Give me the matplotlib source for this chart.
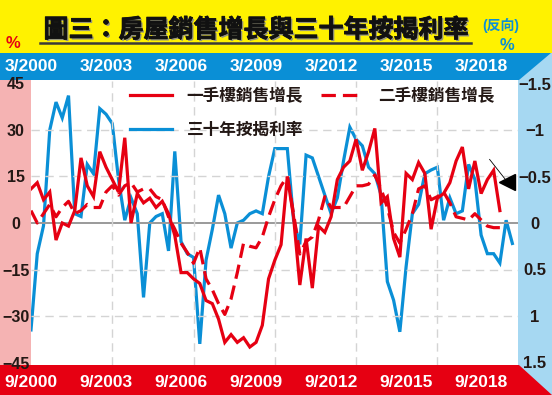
#!/usr/bin/env python3
"""圖三：房屋銷售增長與三十年按揭利率 の再現図。"""

from __future__ import annotations

import matplotlib

matplotlib.use("Agg")
import matplotlib.patheffects as pe
import matplotlib.pyplot as plt
import numpy as np
import pandas as pd
from matplotlib.font_manager import FontProperties
from matplotlib.lines import Line2D
from matplotlib.patches import Polygon, Rectangle
from matplotlib.ticker import FuncFormatter
from matplotlib.transforms import blended_transform_factory


QUARTERS = pd.period_range("2000Q1", "2019Q2", freq="Q")

# 一手樓銷售增長 (%), 左軸
NEW_SALES = [
    11, 13, 7.5, 10, -5.5, 0, -1, 4, 21, 12, 8.5, 23, 18, 14, 10, 27.5, 0, 9.5, 6.5, 8,
    5, 7, 3, -4, -16, -16, -18, -19.5, -25, -26, -31, -38.5, -36, -38.5, -37, -40, -38.5, -33, -18, -12,
    -7, 15, 2, -20, -5, -21, -1, -3, 2, 14, 18, 20, 27, 17, 23, 30.5, 6.5, 8.5, -5, -11,
    16, 14, 19.5, 16, -2, 8, 9.5, 13, 20, 24.5, 11, 20, 9.5, 14, 17, 4,
]
# 二手樓銷售增長 (%), 左軸
SECOND_SALES = [
    4, 0, 3, 6, 2, 5, 7, 3, 4, 6, 5, 5, 10, 12, 9, 12, 13, 10, 11, 11,
    8.5, 7.5, 2, -2, -6.5, -9.5, -13, -8, -18, -21.5, -26, -29.5, -24.5, -16, -6.5, -7.5, -8, -4.5, 2, 7.5,
    12, 15, 3, -10, -6, -4.5, 1, 8.5, 5, 5, 5, 8.5, 12, 12, 12.5, 15.5, 11, 5, -3, -6.5,
    -2, 3, 11, 12, 7.5, 8.5, 10, 6.5, 2, 1.5, 1, 3, 1, -1, -1.5, -1.5,
]
# 三十年按揭利率 (%), 右軸 (反向)
MORTGAGE_RATE = [
    1.15, 0.33, 0.03, -1.00, -1.30, -1.13, -1.37, -0.10, -0.07, -0.63,
    -0.53, -1.23, -1.17, -1.07, -0.47, -0.03, -0.27, -0.10, 0.80, 0.00,
    -0.07, -0.10, 0.30, -0.77, 0.20, 0.33, 0.37, 1.30, 0.40, 0.07,
    -0.30, -0.10, 0.27, 0.00, -0.03, -0.10, -0.13, -0.10, -0.50, -0.80,
    -0.80, -0.80, -0.03, 0.23, -0.73, -0.70, -0.50, -0.30, -0.10, -0.27,
    -0.67, -1.03, -0.90, -0.83, -0.60, -0.53, -0.30, 0.63, 0.83, 1.17,
    0.47, -0.10, -0.20, -0.53, -0.57, -0.60, -0.03, -0.27, -0.10, -0.13,
    -0.63, -0.47, 0.13, 0.33, 0.33, 0.43, -0.03, 0.22,
]

LABEL_QUARTERS = ["2000Q1", "2003Q1", "2006Q1", "2009Q1", "2012Q1", "2015Q1", "2018Q1"]
TOP_LABELS = ["3/2000", "3/2003", "3/2006", "3/2009", "3/2012", "3/2015", "3/2018"]
BOTTOM_LABELS = ["9/2000", "9/2003", "9/2006", "9/2009", "9/2012", "9/2015", "9/2018"]
LEFT_TICKS = [-45, -30, -15, 0, 15, 30, 45]
RIGHT_TICKS = [-1.5, -1, -0.5, 0, 0.5, 1, 1.5]

YELLOW = "#FFF200"
BAND_BLUE = "#0A8FD6"
LIGHT_BLUE = "#A6D8F2"
PINK = "#F5B3B3"
RED = "#E60012"
BLUE = "#0A8FD6"
TEXT = "#231815"

W, H = 552, 395
CJK = ["Noto Sans CJK TC", "DejaVu Sans"]
NUM = ["Liberation Sans", "Noto Sans CJK TC", "DejaVu Sans"]


def fx(px: float) -> float:
    return px / W


def fy(py: float) -> float:
    return 1 - py / H


def draw_background(fig: plt.Figure) -> None:
    """帯状の背景を描く（軸より下に置く）。"""
    tf = fig.transFigure
    kw = dict(transform=tf, zorder=-5, linewidth=0)
    fig.patches.extend([
        Rectangle((0, fy(53)), 1, 1 - fy(53), facecolor=YELLOW, **kw),
        Rectangle((fx(518), 0), 1 - fx(518), fy(53), facecolor=LIGHT_BLUE, **kw),
        Rectangle((0, fy(365)), fx(31), fy(80) - fy(365), facecolor=PINK, **kw),
        Polygon([(0, fy(53)), (fx(551), fy(53)), (fx(519), fy(80)), (0, fy(80))],
                closed=True, facecolor=BAND_BLUE, **kw),
        Polygon([(0, fy(365)), (fx(519), fy(365)), (fx(552), fy(395)), (0, fy(395))],
                closed=True, facecolor=RED, **kw),
    ])


def main() -> None:
    plt.rcParams["font.family"] = NUM
    plt.rcParams["axes.unicode_minus"] = True

    fig = plt.figure(figsize=(W / 100, H / 100), dpi=100, facecolor="white")
    draw_background(fig)

    ax = fig.add_axes([fx(31), fy(365), fx(518) - fx(31), fy(81) - fy(365)])
    ax2 = ax.twinx()
    ax.set_zorder(ax2.get_zorder() + 1)
    ax.patch.set_visible(False)

    x_rate = np.arange(len(MORTGAGE_RATE))
    x_sales = np.arange(len(NEW_SALES))

    h_rate, = ax2.plot(x_rate, MORTGAGE_RATE, color=BLUE, lw=2.3,
                       solid_joinstyle="miter", label="三十年按揭利率")
    h_second, = ax.plot(x_sales, SECOND_SALES, color=RED, lw=2.3,
                        dashes=(4.5, 2.2), label="二手樓銷售增長")
    h_new, = ax.plot(x_sales, NEW_SALES, color=RED, lw=2.3,
                     solid_joinstyle="miter", label="一手樓銷售增長")

    ax.set_xlim(0, 77.9)
    ax.set_ylim(-45.8, 45.8)
    ax2.set_ylim(1.527, -1.527)

    ax.set_xticks(np.arange(13, 78, 13))
    ax.tick_params(axis="x", length=0, labelbottom=False)
    ax.set_yticks(LEFT_TICKS)
    ax.yaxis.set_major_formatter(FuncFormatter(lambda v, _: f"{v:g}".replace("-", "\u2212")))
    ax.tick_params(axis="y", length=0, pad=10.8, labelsize=11.5, labelcolor=TEXT)
    for lab in ax.get_yticklabels():
        lab.set_horizontalalignment("center")
        lab.set_fontweight("bold")

    ax2.set_yticks(RIGHT_TICKS)
    ax2.yaxis.set_major_formatter(FuncFormatter(lambda v, _: f"{v:g}".replace("-", "\u2212")))
    ax2.tick_params(axis="y", length=0, pad=12.2, labelsize=12, labelcolor=TEXT)
    for lab in ax2.get_yticklabels():
        lab.set_horizontalalignment("center")
        lab.set_fontweight("bold")

    ax.grid(axis="x", color="#d4d4d4", lw=1, dashes=(6, 4))
    for v in LEFT_TICKS[1:-1]:
        if v == 0:
            ax.axhline(v, color="#9a9a9a", lw=1.4, zorder=0.6)
        else:
            ax.axhline(v, color="#d4d4d4", lw=1, dashes=(6, 4), zorder=0.6)

    for a in (ax, ax2):
        for s in a.spines.values():
            s.set_visible(False)

    # 上下の日付ラベル
    trans = blended_transform_factory(ax.transData, ax.transAxes)
    for q, top, bottom in zip(LABEL_QUARTERS, TOP_LABELS, BOTTOM_LABELS):
        pos = QUARTERS.get_loc(pd.Period(q, freq="Q"))
        ax.text(pos, 1.05, top, transform=trans, ha="center", va="center",
                color="white", fontsize=12.5, fontweight="bold", clip_on=False)
        ax.text(pos, -0.06, bottom, transform=trans, ha="center", va="center",
                color="white", fontsize=12.5, fontweight="bold", clip_on=False)

    legend_font = FontProperties(family=CJK, weight="bold", size=12)
    ax.legend(
        handles=[h_new, h_rate, h_second],
        ncol=2,
        loc="upper left",
        bbox_to_anchor=(0.203, 0.979),
        frameon=False,
        prop=legend_font,
        labelcolor=TEXT,
        handlelength=2.5,
        handletextpad=0.9,
        columnspacing=1.1,
        labelspacing=0.98,
        borderpad=0,
        borderaxespad=0,
    )

    # 矢印の注記
    ax.annotate("", xy=(0.988, 0.623), xytext=(0.938, 0.732), xycoords="axes fraction",
                arrowprops=dict(arrowstyle="-", color="black", lw=0.6))
    ax.plot([0.977], [0.645], marker="<", color="black", markersize=11,
            transform=ax.transAxes, clip_on=False)

    # タイトルなど
    fig.text(fx(256), fy(30), "圖三：房屋銷售增長與三十年按揭利率", family=CJK,
             fontsize=18, fontweight="bold", color="#111111", ha="center", va="center",
             path_effects=[pe.SimplePatchShadow(offset=(1.2, -1.2), shadow_rgbFace="#8a8a8a", alpha=0.9),
                           pe.withStroke(linewidth=0.6, foreground="#111111")])
    fig.add_artist(Line2D([fx(40), fx(471)], [fy(43), fy(43)], color="#3a3a3a", lw=1.8,
                          transform=fig.transFigure))
    fig.text(fx(13), fy(43), "%", color=RED, fontsize=12, fontweight="bold",
             ha="center", va="center")
    fig.text(fx(501), fy(26), "(反向)", color=BLUE, fontsize=10, fontweight="bold",
             ha="center", va="center")
    fig.text(fx(507), fy(45), "%", color=BLUE, fontsize=12, fontweight="bold",
             ha="center", va="center")

    fig.savefig("out.png", dpi=100)
    plt.close(fig)


if __name__ == "__main__":
    main()
